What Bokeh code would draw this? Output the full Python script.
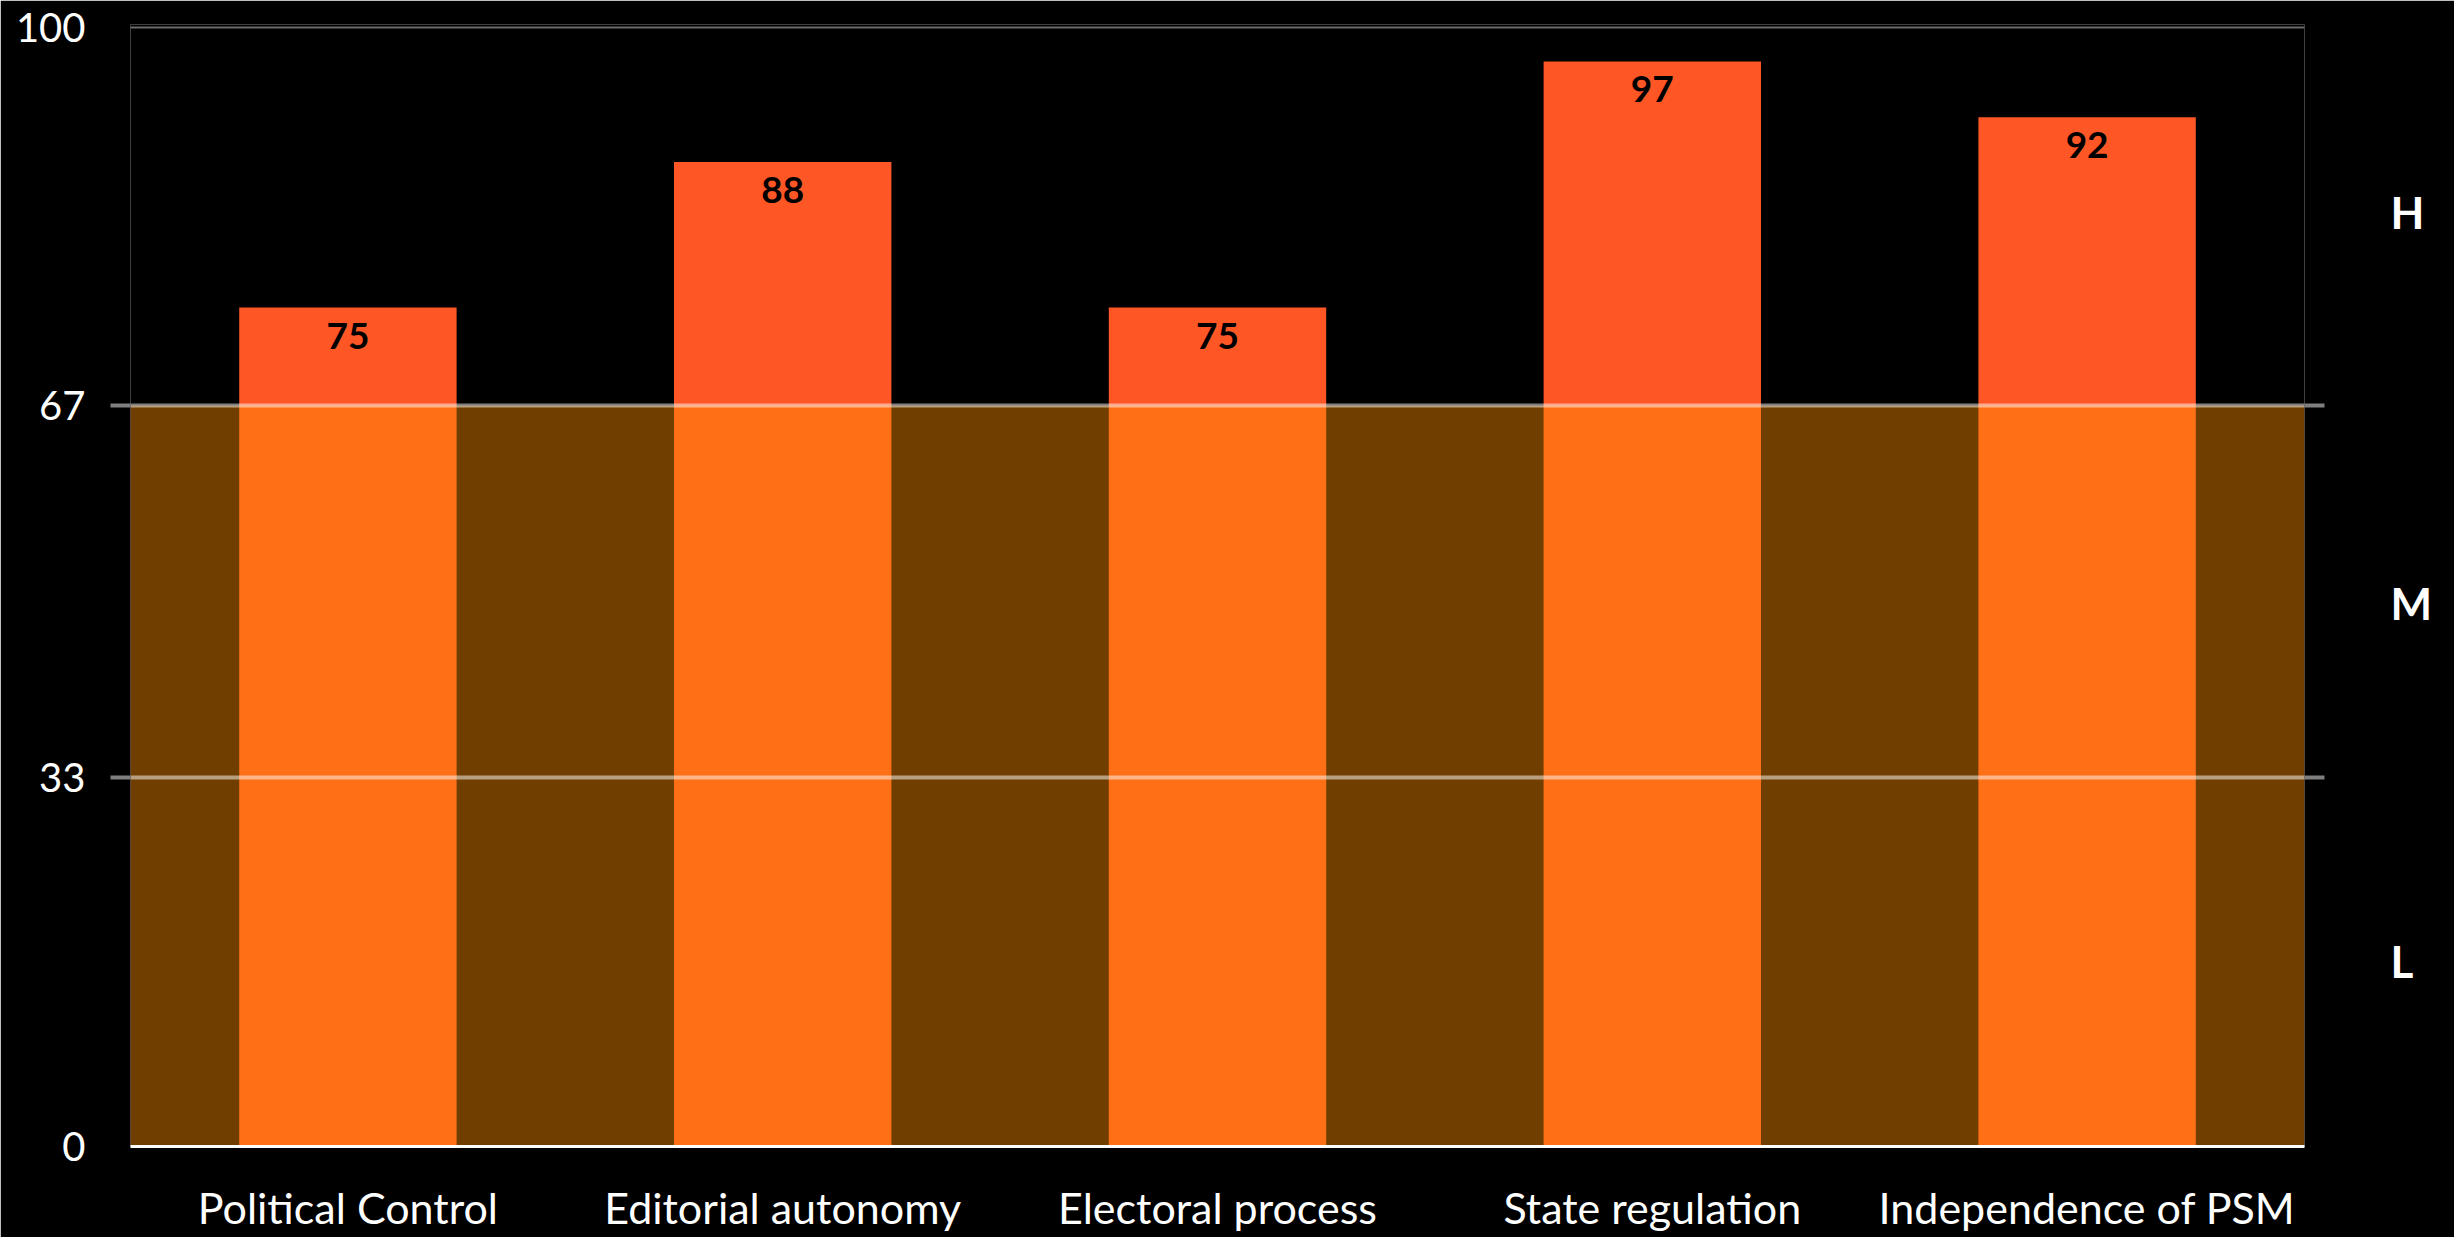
from bokeh.plotting import figure
from bokeh.models import (FactorRange, Range1d, FixedTicker, LinearAxis, ColumnDataSource)
from bokeh.core.properties import value
from bokeh.embed import file_html
from bokeh.resources import INLINE

categories = ["Political Control", "Editorial autonomy", "Electoral process",
              "State regulation", "Independence of PSM"]
scores = [75, 88, 75, 97, 92]

# risk band thresholds and labels
low_top = 33
mid_top = 66.2
y_max = 100
y_ticks = [0, low_top, mid_top, y_max]
y_tick_labels = {0: "0", low_top: "33", mid_top: "67", y_max: "100"}
band_label_pos = [16.6, 48.6, 83.5]
band_labels = ["L", "M", "H"]

FONT = "Lato"

p = figure(x_range=FactorRange(*categories), y_range=Range1d(0, 100.3),
           width=2454, height=1237, output_backend="svg", toolbar_location=None,
           min_border_left=130, min_border_right=150, min_border_top=24, min_border_bottom=91)
p.background_fill_color = "black"
p.border_fill_color = "black"
p.outline_line_color = None

# top reference line
p.hspan(y=[y_max], line_color="#6a6a6a", line_width=2)

src = ColumnDataSource(dict(cat=categories, val=scores, lab=[str(v) for v in scores]))
p.vbar(x="cat", top="val", bottom=0, width=0.5, source=src,
       fill_color="#FF5626", line_color=None)

# band overlay (low + medium zone), drawn over the bars
p.hstrip(y0=[0], y1=[mid_top], fill_color="#FF8F00", fill_alpha=0.44, line_color=None)
# threshold lines
p.hspan(y=[low_top, mid_top], line_color="white", line_alpha=0.5, line_width=4)

p.text(x="cat", y="val", text="lab", source=src, text_align="center", text_baseline="top",
       y_offset=15, text_color="black", text_font=value(FONT), text_font_style="bold",
       text_font_size="37px")

p.xgrid.visible = False
p.ygrid.visible = False

# x axis
xa = p.xaxis[0]
xa.axis_line_color = "white"
xa.axis_line_width = 3
xa.major_tick_line_color = None
xa.minor_tick_line_color = None
xa.major_label_text_color = "white"
xa.major_label_text_font = FONT
xa.major_label_text_font_size = "43px"
xa.major_label_standoff = 29

# left axis
ya = p.yaxis[0]
ya.ticker = FixedTicker(ticks=y_ticks, minor_ticks=[low_top, mid_top])
ya.major_label_overrides = y_tick_labels
ya.axis_line_color = None
ya.major_tick_line_color = None
ya.major_tick_out = 0
ya.major_tick_in = 0
ya.minor_tick_line_color = "#7f7f7f"
ya.minor_tick_line_width = 4
ya.minor_tick_out = 20
ya.minor_tick_in = 0
ya.major_label_text_color = "white"
ya.major_label_text_font = FONT
ya.major_label_text_font_size = "40px"
ya.major_label_standoff = 25

# right axis with band letters
ra = LinearAxis(ticker=FixedTicker(ticks=band_label_pos, minor_ticks=[low_top, mid_top]),
                major_label_overrides=dict(zip(band_label_pos, band_labels)))
ra.axis_line_color = None
ra.major_tick_line_color = None
ra.major_tick_out = 0
ra.major_tick_in = 0
ra.minor_tick_line_color = "#7f7f7f"
ra.minor_tick_line_width = 4
ra.minor_tick_out = 20
ra.minor_tick_in = 0
ra.major_label_text_color = "white"
ra.major_label_text_font = FONT
ra.major_label_text_font_style = "bold"
ra.major_label_text_font_size = "44px"
ra.major_label_standoff = 66
p.add_layout(ra, "right")

open("out.html", "w").write(file_html(p, INLINE))
